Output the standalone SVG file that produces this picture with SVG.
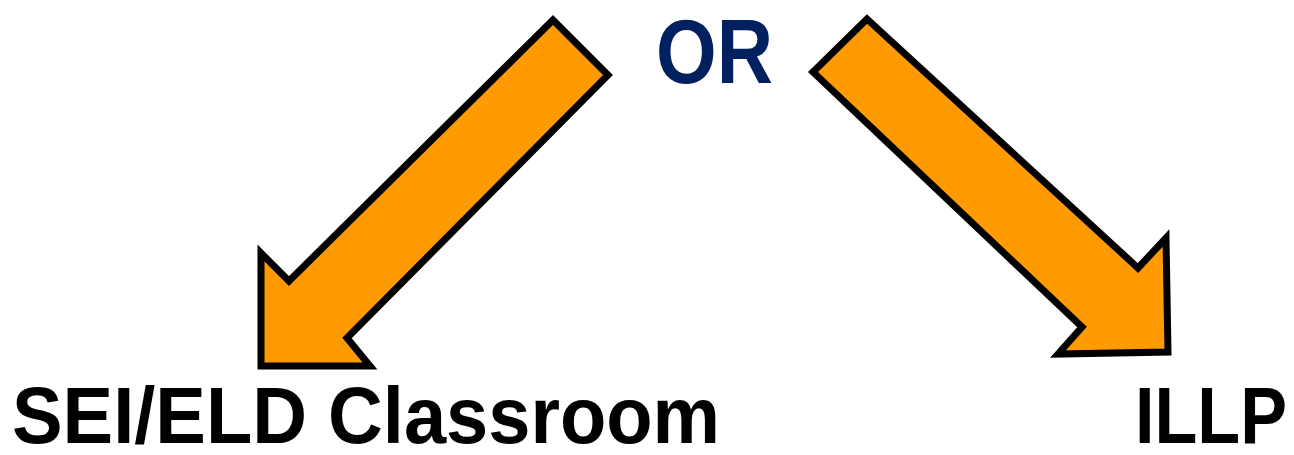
<svg xmlns="http://www.w3.org/2000/svg" width="1294" height="455" viewBox="0 0 1294 455">
<style>
.arrow{fill:#FF9B00;stroke:#000;stroke-width:7;stroke-linejoin:miter}
.lbl{font-family:"Liberation Sans",Arial,sans-serif;font-weight:bold;fill:#000}
.or{font-family:"Liberation Sans",Arial,sans-serif;font-weight:bold;fill:#002060}
</style>
<rect width="1294" height="455" fill="#fff"/>
<g id="connectors">
<polygon class="arrow" points="553,20 608,75 347,338 370,366 261,366 261,253 289,281"/>
<polygon class="arrow" points="867,19 813,72 1082,327 1058,354 1168,352 1166,238 1138,268"/>
</g>
<g id="node-or"><text class="or" x="656" y="83" font-size="90" textLength="117" lengthAdjust="spacingAndGlyphs">OR</text></g>
<g id="node-sei"><text class="lbl" x="12" y="443" font-size="80" textLength="708" lengthAdjust="spacingAndGlyphs">SEI/ELD Classroom</text></g>
<g id="node-illp"><text class="lbl" x="1135" y="443" font-size="80" textLength="152" lengthAdjust="spacingAndGlyphs">ILLP</text></g>
</svg>
